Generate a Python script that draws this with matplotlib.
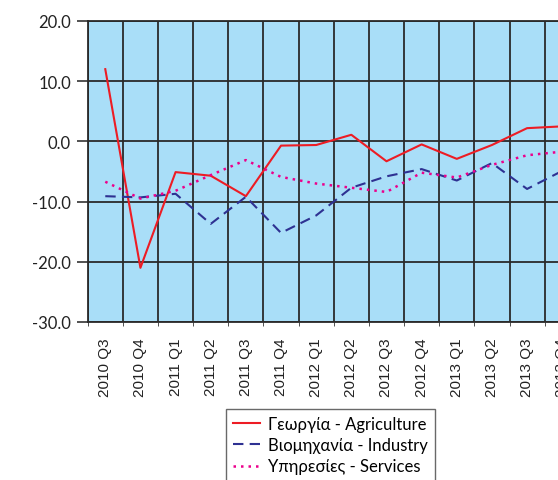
import matplotlib
matplotlib.use("Agg")
import matplotlib.pyplot as plt
import numpy as np

categories = ["2010 Q3", "2010 Q4", "2011 Q1", "2011 Q2", "2011 Q3", "2011 Q4",
              "2012 Q1", "2012 Q2", "2012 Q3", "2012 Q4", "2013 Q1", "2013 Q2",
              "2013 Q3", "2013 Q4"]
agriculture = [12.0, -21.0, -5.1, -5.7, -9.1, -0.7, -0.6, 1.1, -3.3, -0.5, -2.9, -0.6, 2.2, 2.5]
industry = [-9.1, -9.3, -8.7, -13.7, -9.2, -15.2, -12.3, -7.7, -5.8, -4.6, -6.5, -3.6, -7.9, -4.9]
services = [-6.7, -9.5, -8.2, -5.6, -3.1, -5.9, -7.0, -7.7, -8.4, -5.2, -6.0, -3.9, -2.3, -1.7]
labels = ["Γεωργία - Agriculture", "Βιομηχανία - Industry", "Υπηρεσίες - Services"]
yticks = [20, 10, 0, -10, -20, -30]

plt.rcParams['font.family'] = ['Lato', 'DejaVu Sans']

W, H = 558, 481
fig = plt.figure(figsize=(W / 100, H / 100), dpi=100)
left, top, bottom = 87.7, 22, 323
cell = 35.15
n = len(categories)
right = left + cell * n
ax = fig.add_axes([left / W, 1 - bottom / H, (right - left) / W, (bottom - top) / H])
ax.set_facecolor("#A9DEF8")

x = np.arange(n) + 0.5
ax.plot(x, agriculture, color="#ED1C24", lw=1.5, label=labels[0])
ax.plot(x, industry, color="#2E3192", lw=1.5, ls=(0, (5, 3)), label=labels[1])
ax.plot(x, services, color="#EC008C", lw=1.8, ls=(0, (1, 2)), label=labels[2])

ax.set_xlim(0, n)
ax.set_ylim(-30, 20)
ax.set_yticks(yticks)
ax.set_yticklabels([f"{v:.1f}" for v in yticks], fontsize=12, color="#222222")
ax.set_xticks(x)
ax.set_xticklabels(categories, rotation=90, fontsize=11,
                   family=['Liberation Sans', 'DejaVu Sans'], color="#222222")
ax.set_xticks(np.arange(n + 1), minor=True)
ax.tick_params(axis='x', which='major', length=0, pad=11)
ax.tick_params(axis='x', which='minor', length=3, color="#333333")
ax.tick_params(axis='y', length=8, width=1.2, color="#333333", pad=4)
ax.grid(True, axis='y', which='major', color="#2a2a2a", lw=1.3)
ax.grid(True, axis='x', which='minor', color="#2a2a2a", lw=1.3)
ax.set_axisbelow(True)
for s in ax.spines.values():
    s.set_color("#2a2a2a")
    s.set_linewidth(1.3)

leg = fig.legend(loc='upper center', bbox_to_anchor=(330.5 / W, 1 - 410 / H),
                 fontsize=12, frameon=True, fancybox=False, edgecolor="#444444",
                 handlelength=1.6, handletextpad=0.5, labelspacing=0.32,
                 borderpad=0.4, borderaxespad=0)
leg.get_frame().set_linewidth(1.0)

fig.savefig("out.png", dpi=100)
